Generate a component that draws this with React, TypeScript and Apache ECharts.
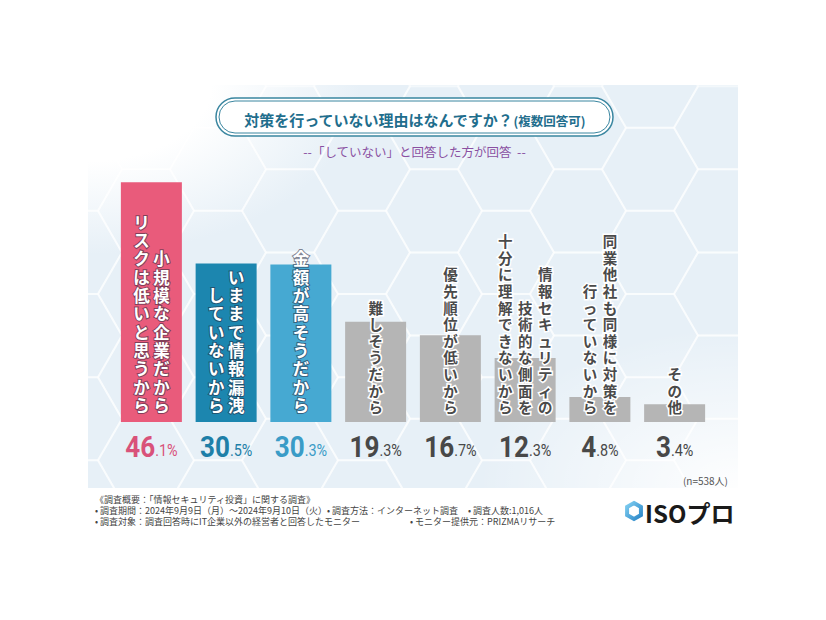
import React, { useEffect, useRef } from 'react';
import * as echarts from 'echarts';

// ---------- data ----------
const categories = [
  '小規模な企業だからリスクは低いと思うから',
  'いままで情報漏洩していないから',
  '金額が高そうだから',
  '難しそうだから',
  '優先順位が低いから',
  '情報セキュリティの技術的な側面を十分に理解できないから',
  '同業他社も同様に対策を行っていないから',
  'その他',
];
// vertical label columns (reading order: right column first)
const labelColumns = [
  ['小規模な企業だから', 'リスクは低いと思うから'],
  ['いままで情報漏洩', 'していないから'],
  ['金額が高そうだから'],
  ['難しそうだから'],
  ['優先順位が低いから'],
  ['情報セキュリティの', '技術的な側面を', '十分に理解できないから'],
  ['同業他社も同様に対策を', '行っていないから'],
  ['その他'],
];
const values = [46.1, 30.5, 30.3, 19.3, 16.7, 12.3, 4.8, 3.4];
const highlighted = [true, true, true, false, false, false, false, false];

const barColors = ['#E95B7B', '#1C86AF', '#46A9D2', '#B5B5B5', '#B5B5B5', '#B5B5B5', '#B5B5B5', '#B5B5B5'];
const valueColors = ['#D9527A', '#1E7FA8', '#3A9CC7', '#484848', '#484848', '#484848', '#484848', '#484848'];

const titleMain = '対策を行っていない理由はなんですか？';
const titleSub = '(複数回答可)';
const subtitle = '--「していない」と回答した方が回答  --';
const sampleNote = '(n=538人)';
const footerLine1 = '《調査概要：「情報セキュリティ投資」に関する調査》';
const footerLine2 = ['• 調査期間：2024年9月9日（月）～2024年9月10日（火）', '• 調査方法：インターネット調査', '• 調査人数:1,016人'];
const footerLine3 = ['• 調査対象：調査回答時にIT企業以外の経営者と回答したモニター', '• モニター提供元：PRIZMAリサーチ'];
const logoText = 'ISOプロ';

const JP = "'Noto Sans CJK JP', 'Noto Sans', sans-serif";
const NUM = "Roboto, 'Noto Sans', sans-serif";

function hexPoints(cx: number, cy: number, r: number, startDeg: number) {
  const pts: number[][] = [];
  for (let k = 0; k < 6; k++) {
    const a = ((startDeg + 60 * k) * Math.PI) / 180;
    pts.push([cx + r * Math.cos(a), cy + r * Math.sin(a)]);
  }
  return pts;
}

export default function App() {
  const ref = useRef<HTMLDivElement>(null);

  useEffect(() => {
    if (!ref.current) return;
    const chart = echarts.init(ref.current, undefined, { renderer: 'svg' });

    // honeycomb decoration
    const honey: any[] = [];
    const R = 48;
    const h = R * Math.sqrt(3);
    for (let k = -7; k <= 3; k++) {
      for (let m = -3; m <= 3; m++) {
        const cx = 578 + 1.5 * R * k;
        const cy = 294 + h * m + (Math.abs(k) % 2 === 1 ? h / 2 : 0);
        if (cx < 60 || cx > 770 || cy < 70 || cy > 510) continue;
        honey.push({
          type: 'polygon',
          z: -5,
          silent: true,
          shape: { points: hexPoints(cx, cy, R, 0) },
          style: { fill: 'none', stroke: 'rgba(255,255,255,0.5)', lineWidth: 2 },
        });
      }
    }

    const option: any = {
      animation: false,
      backgroundColor: '#ffffff',
      grid: { left: 114, right: 114, top: 162, bottom: 198, containLabel: false },
      xAxis: {
        type: 'category',
        data: categories,
        axisLine: { show: false },
        axisTick: { show: false },
        axisLabel: { show: false },
      },
      yAxis: {
        type: 'value',
        min: 0,
        max: 50,
        show: false,
        splitLine: { show: false },
      },
      graphic: [
        // panel background
        {
          type: 'rect',
          z: -10,
          silent: true,
          shape: { x: 88, y: 85, width: 650, height: 403 },
          style: {
            fill: {
              type: 'radial',
              x: 0,
              y: 0,
              r: 0.42,
              colorStops: [
                { offset: 0, color: '#ffffff' },
                { offset: 0.45, color: '#ffffff' },
                { offset: 1, color: '#E7F0F7' },
              ],
            },
          },
        },
        {
          type: 'rect',
          z: -9,
          silent: true,
          shape: { x: 88, y: 85, width: 650, height: 403 },
          style: {
            fill: {
              type: 'radial',
              x: 1,
              y: 1,
              r: 0.4,
              colorStops: [
                { offset: 0, color: 'rgba(255,255,255,0.95)' },
                { offset: 1, color: 'rgba(255,255,255,0)' },
              ],
            },
          },
        },
        ...honey,
        // title box (double border)
        {
          type: 'rect',
          z: 1,
          shape: { x: 216, y: 98, width: 397, height: 38, r: 19 },
          style: { fill: '#ffffff', stroke: '#3A86A0', lineWidth: 1.5 },
        },
        {
          type: 'rect',
          z: 1,
          shape: { x: 219, y: 101, width: 391, height: 32, r: 16 },
          style: { fill: 'none', stroke: '#3A86A0', lineWidth: 1 },
        },
        {
          type: 'text',
          z: 2,
          x: 414.5,
          y: 117.5,
          style: {
            text: `{a|${titleMain}}{b|${titleSub}}`,
            align: 'center',
            verticalAlign: 'middle',
            rich: {
              a: { fontFamily: JP, fontSize: 15, fontWeight: 'bold', fill: '#1F6E8D', verticalAlign: 'bottom', lineHeight: 18 },
              b: { fontFamily: JP, fontSize: 12.5, fontWeight: 'bold', fill: '#1F6E8D', verticalAlign: 'bottom', lineHeight: 17 },
            },
          },
        },
        {
          type: 'text',
          z: 2,
          x: 414.5,
          y: 151,
          style: {
            text: subtitle,
            align: 'center',
            verticalAlign: 'middle',
            fontFamily: JP,
            fontSize: 12.5,
            fill: '#8A50A2',
          },
        },
        // sample size
        {
          type: 'text',
          x: 728,
          y: 480,
          style: { text: sampleNote, align: 'right', verticalAlign: 'middle', fontFamily: JP, fontSize: 10, fill: '#555555' },
        },
        // footer
        {
          type: 'text',
          x: 95,
          y: 499,
          style: { text: footerLine1, verticalAlign: 'middle', fontFamily: JP, fontSize: 9, fill: '#444444' },
        },
        {
          type: 'text',
          x: 95,
          y: 510,
          style: { text: footerLine2[0], verticalAlign: 'middle', fontFamily: JP, fontSize: 9, fill: '#444444' },
        },
        {
          type: 'text',
          x: 327,
          y: 510,
          style: { text: footerLine2[1], verticalAlign: 'middle', fontFamily: JP, fontSize: 9, fill: '#444444' },
        },
        {
          type: 'text',
          x: 468,
          y: 510,
          style: { text: footerLine2[2], verticalAlign: 'middle', fontFamily: JP, fontSize: 9, fill: '#444444' },
        },
        {
          type: 'text',
          x: 95,
          y: 521,
          style: { text: footerLine3[0], verticalAlign: 'middle', fontFamily: JP, fontSize: 9, fill: '#444444' },
        },
        {
          type: 'text',
          x: 410,
          y: 521,
          style: { text: footerLine3[1], verticalAlign: 'middle', fontFamily: JP, fontSize: 9, fill: '#444444' },
        },
        {
          type: 'line',
          silent: true,
          shape: { x1: 88, y1: 533, x2: 390, y2: 533 },
          style: {
            lineWidth: 1,
            stroke: {
              type: 'linear',
              x: 0,
              y: 0,
              x2: 1,
              y2: 0,
              colorStops: [
                { offset: 0, color: '#DADADA' },
                { offset: 0.8, color: '#E4E4E4' },
                { offset: 1, color: 'rgba(228,228,228,0)' },
              ],
            },
          },
        },
        // logo
        {
          type: 'polygon',
          shape: { points: hexPoints(634, 511, 8, -90) },
          style: {
            fill: 'none',
            lineWidth: 4,
            stroke: {
              type: 'linear',
              x: 0,
              y: 0,
              x2: 1,
              y2: 1,
              colorStops: [
                { offset: 0, color: '#7FCDF0' },
                { offset: 1, color: '#2A86C8' },
              ],
            },
          },
        },
        {
          type: 'text',
          x: 645,
          y: 512,
          style: { text: logoText, verticalAlign: 'middle', fontFamily: JP, fontSize: 24, fontWeight: 'bold', fill: '#1A1A1A' },
        },
      ],
      series: [
        {
          type: 'bar',
          z: 2,
          barWidth: 61,
          data: values.map((v, i) => ({ value: v, itemStyle: { color: barColors[i] } })),
        },
        {
          type: 'custom',
          z: 5,
          silent: true,
          data: values.map((v, i) => [i, v]),
          encode: { x: 0, y: 1 },
          renderItem: (params: any, api: any) => {
            const idx = api.value(0);
            const val = api.value(1);
            const base = api.coord([idx, 0]);
            const cols = labelColumns[idx];
            const hi = highlighted[idx];
            const spacing = 20;
            const fontSize = hi ? 16.5 : 14.5;
            const lineHeight = hi ? 18.3 : 16.6;
            const n = cols.length;
            const children: any[] = cols.map((col, c) => ({
              type: 'text',
              x: base[0] + ((n - 1) / 2 - c) * spacing,
              y: base[1] - (hi ? 8 : 7),
              style: {
                text: Array.from(col).join('\n'),
                align: 'center',
                verticalAlign: 'bottom',
                fontFamily: JP,
                fontSize,
                fontWeight: 'bold',
                lineHeight,
                fill: hi ? '#ffffff' : '#4A4A4A',
                stroke: hi ? 'rgba(40,40,60,0.55)' : '#ffffff',
                lineWidth: hi ? 2 : 3,
              },
            }));
            const [ip, dp] = Number(val).toFixed(1).split('.');
            children.push({
              type: 'text',
              x: base[0],
              y: base[1] + 11,
              scaleX: 0.9,
              style: {
                text: `{i|${ip}}{d|.${dp}%}`,
                align: 'center',
                verticalAlign: 'top',
                rich: {
                  i: {
                    fontFamily: NUM,
                    fontSize: 29,
                    fontWeight: 'bold',
                    fill: valueColors[idx],
                    lineHeight: 29,
                    verticalAlign: 'bottom',
                  },
                  d: {
                    fontFamily: NUM,
                    fontSize: 16,
                    fontWeight: 'normal',
                    fill: valueColors[idx],
                    lineHeight: 16,
                    verticalAlign: 'bottom',
                    padding: [0, 0, 3, 0],
                  },
                },
              },
            });
            return { type: 'group', children };
          },
        },
      ],
    };

    chart.setOption(option);
    return () => chart.dispose();
  }, []);

  return (
    <div
      ref={ref}
      style={{ position: 'absolute', left: 0, top: 0, width: 826, height: 620, background: '#ffffff' }}
    />
  );
}
